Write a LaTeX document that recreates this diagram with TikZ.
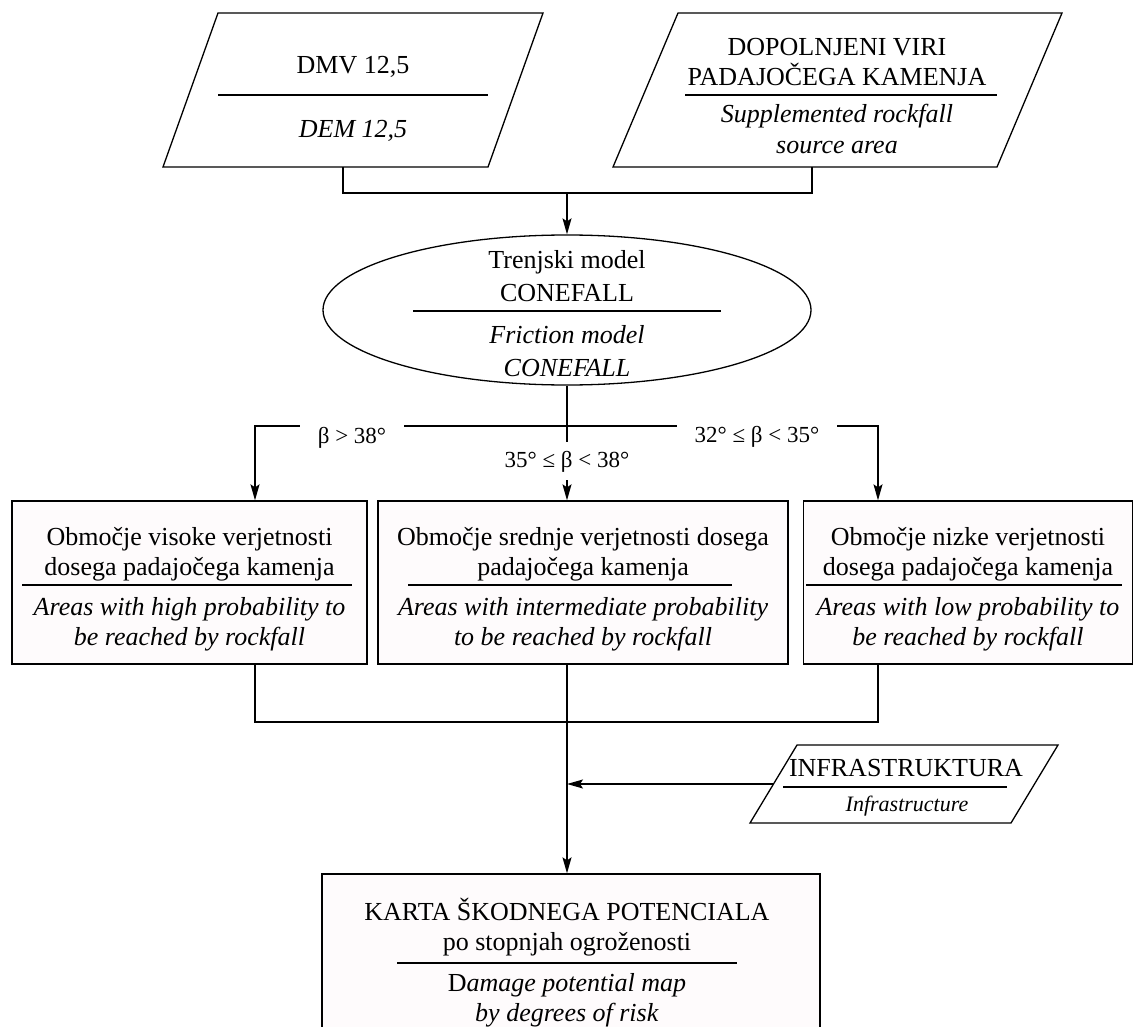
\documentclass[tikz,border=0pt]{standalone}
\usepackage{fontspec}
\setmainfont{Liberation Serif}
\usetikzlibrary{shapes.geometric,arrows.meta}
\definecolor{boxfill}{RGB}{254,251,252}
\tikzset{
  arr/.style={-{Stealth[length=16pt,width=9pt,inset=3pt]}},
  boxnode/.style={draw, rectangle, fill=boxfill, inner sep=0pt},
  txt/.style={align=center, inner sep=0pt, font=\fontsize{26}{30}\selectfont},
  itxt/.style={txt, font=\fontsize{26}{30}\selectfont\itshape},
  etxt/.style={align=center, inner sep=0pt, font=\fontsize{26}{33}\selectfont},
  lab/.style={fill=white, inner xsep=18pt, inner ysep=3pt, text height=17pt, text depth=5pt, font=\fontsize{23}{27}\selectfont},
}
\begin{document}
\begin{tikzpicture}[x=1pt,y=-1pt,line width=1.3pt]
\useasboundingbox (0,0) rectangle (1134,1027);
\clip (0,0) rectangle (1134,1027);
% input parallelograms
\draw (218,13) -- (543,13) -- (488,167) -- (163,167) -- cycle;
\coordinate (p1b) at (343,167);
\node[txt] (p1t) at (353,67) {DMV 12,5};
\node[itxt] (p1e) at (353,131) {DEM 12,5};
\draw (218,95) -- (488,95);
\draw (678,13) -- (1062,13) -- (997,167) -- (613,167) -- cycle;
\coordinate (p2b) at (812,167);
\node[txt] (p2t) at (837,62) {DOPOLNJENI VIRI\\PADAJOČEGA KAMENJA};
\node[itxt] (p2e) at (837,129) {Supplemented rockfall\\source area};
\draw (685,95) -- (997,95);
% ellipse
\node[draw, ellipse, inner sep=0pt, minimum width=488pt, minimum height=150pt] (ell) at (567,310) {};
\node[etxt] (et) at (567,276) {Trenjski model\\CONEFALL};
\node[etxt, font=\fontsize{26}{33}\selectfont\itshape] (ee) at (567,351) {Friction model\\CONEFALL};
\draw (413,311) -- (721,311);
% three boxes
\node[boxnode, minimum width=355pt, minimum height=163pt] (b1) at (189.5,582.5) {};
\node[boxnode, minimum width=410pt, minimum height=163pt] (b2) at (583,582.5) {};
\node[boxnode, minimum width=329pt, minimum height=163pt] (b3) at (968,582.5) {};
\node[txt] (b1t) at (189.5,554) {Območje visoke verjetnosti\\dosega padajočega kamenja};
\node[itxt] (b1e) at (189.5,624) {Areas with high probability to\\be reached by rockfall};
\draw (22,585) -- (352,585);
\node[txt] (b2t) at (583,554) {Območje srednje verjetnosti dosega\\padajočega kamenja};
\node[itxt] (b2e) at (583,624) {Areas with intermediate probability\\to be reached by rockfall};
\draw (408,585) -- (732,585);
\node[txt] (b3t) at (968,554) {Območje nizke verjetnosti\\dosega padajočega kamenja};
\node[itxt] (b3e) at (968,624) {Areas with low probability to\\be reached by rockfall};
\draw (806,585) -- (1122,585);
% infrastructure
\draw (797,745) -- (1058,745) -- (1011,823) -- (750,823) -- cycle;
\coordinate (inf) at (773,784);
\node[txt] (it) at (906,768) {INFRASTRUKTURA};
\node[inner sep=0pt, font=\fontsize{22}{26}\selectfont\itshape] (ie) at (907,806) {Infrastructure};
\draw (783,787) -- (1007,787);
% final box
\node[boxnode, minimum width=498pt, minimum height=200pt] (fin) at (571,974) {};
\node[txt] (ft) at (567,927) {KARTA ŠKODNEGA POTENCIALA\\po stopnjah ogroženosti};
\node[txt] (fe) at (567,1000) {D\textit{amage potential map}\\\textit{by degrees of risk}};
\draw (397,963) -- (737,963);
% connectors
\coordinate (j1) at (567,193);
\draw (p1b) |- (j1) -| (p2b);
\draw[arr] (j1) -- (ell.north);
\coordinate (sp) at (567,426);
\coordinate (x1) at (255,426);
\coordinate (x3) at (878,426);
\draw[arr] (ell.south) -- (ell.south |- b2.north);
\draw[arr] (sp) -- (x1) -- (b1.north -| x1);
\draw[arr] (sp) -- (x3) -- (b3.north -| x3);
\coordinate (y1) at (255,722);
\coordinate (y3) at (878,722);
\draw (b1.south -| y1) -- (y1) -- (y3) -- (b3.south -| y3);
\draw[arr] (ell.south |- b2.south) -- (ell.south |- fin.north);
\draw[arr] (inf) -- (inf -| ell.south);
% labels
\node[lab] (l1) at (352,437) {β > 38°};
\node[lab, inner ysep=8pt] (l2) at (567,461) {35° ≤ β < 38°};
\node[lab] (l3) at (757,436) {32° ≤ β < 35°};
\end{tikzpicture}
\end{document}
